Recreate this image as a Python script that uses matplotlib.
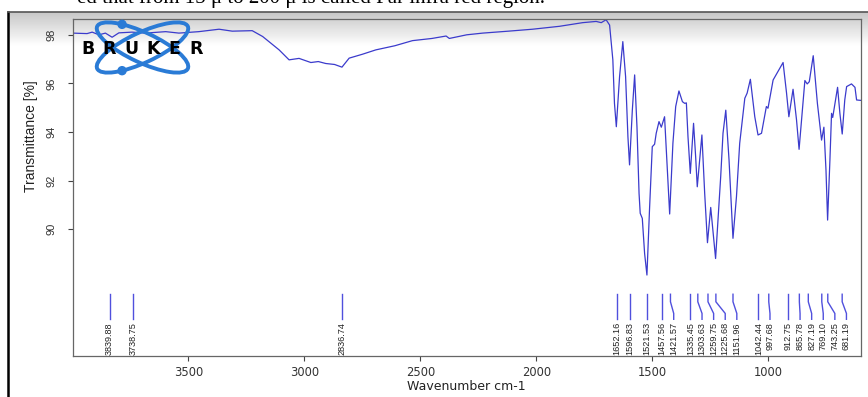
import numpy as np
import matplotlib
matplotlib.use('Agg')
import matplotlib.pyplot as plt
from matplotlib.patches import Ellipse, Circle

# spectrum (wavenumber cm-1, transmittance %)
wavenumber = [4000, 3937, 3915, 3886, 3858, 3829, 3800, 3743, 3685, 3627,
              3598, 3541, 3455, 3368, 3311, 3225, 3180, 3109, 3066, 3023,
              2972, 2940, 2908, 2870, 2838, 2807, 2750, 2692, 2610, 2534,
              2450, 2389, 2375, 2300, 2231, 2120, 2016, 1900, 1800, 1742,
              1720, 1699, 1684, 1670, 1663, 1655, 1641, 1627, 1615, 1605,
              1598, 1586, 1576, 1566, 1557, 1552, 1543, 1533, 1523, 1512,
              1500, 1490, 1483, 1471, 1461, 1447, 1437, 1425, 1411, 1399,
              1385, 1370, 1360, 1353, 1346, 1336, 1322, 1313, 1306, 1286,
              1274, 1262, 1248, 1227, 1205, 1195, 1183, 1169, 1152, 1137,
              1123, 1101, 1091, 1077, 1058, 1044, 1029, 1008, 1001, 979,
              958, 936, 921, 911, 893, 878, 867, 842, 832, 823,
              806, 788, 770, 760, 751, 744, 734, 727, 722, 701,
              691, 681, 670, 662, 641, 626, 619, 598]
transmittance = [98.07, 98.05, 98.11, 98.00, 98.07, 97.90, 98.08, 98.11, 98.07, 98.11,
                 98.13, 98.07, 98.13, 98.23, 98.15, 98.17, 97.93, 97.38, 96.97, 97.03,
                 96.86, 96.90, 96.82, 96.78, 96.67, 97.04, 97.20, 97.38, 97.55, 97.76,
                 97.85, 97.95, 97.85, 98.00, 98.07, 98.15, 98.23, 98.35, 98.50, 98.55,
                 98.50, 98.62, 98.40, 96.97, 95.18, 94.22, 96.28, 97.72, 96.28, 93.81,
                 92.65, 94.90, 96.35, 94.22, 91.48, 90.66, 90.45, 89.00, 88.12, 90.79,
                 93.40, 93.50, 93.95, 94.43, 94.20, 94.63, 92.85, 90.63, 93.54, 95.05,
                 95.69, 95.25, 95.18, 95.20, 93.81, 92.30, 94.36, 92.99, 91.75, 93.88,
                 91.48, 89.45, 90.90, 88.80, 92.16, 93.95, 94.90, 92.85, 89.63, 91.34,
                 93.54, 95.39, 95.60, 96.17, 94.63, 93.88, 93.95, 95.05, 94.98, 96.14,
                 96.49, 96.86, 95.60, 94.63, 95.76, 94.50, 93.29, 96.12, 95.98, 96.07,
                 97.14, 95.18, 93.67, 94.20, 92.44, 90.38, 92.85, 94.77, 94.60, 95.84,
                 94.77, 93.92, 95.32, 95.87, 95.98, 95.84, 95.32, 95.30]

peaks = [3839.88, 3738.75, 2836.74, 1652.16, 1596.83, 1521.53, 1457.56, 1421.57,
         1335.45, 1303.63, 1259.75, 1225.68, 1151.96, 1042.44, 997.68, 912.75,
         865.78, 827.19, 769.10, 743.25, 681.19]

xticks = [3500, 3000, 2500, 2000, 1500, 1000]
yticks = [90, 92, 94, 96, 98]

W, H = 868, 397
line_col = '#3b3bcc'
grey = '#444444'
wide = ['DejaVu Sans']
narrow = ['Liberation Sans Narrow', 'Liberation Sans', 'DejaVu Sans']

fig = plt.figure(figsize=(W / 100, H / 100), dpi=100)
fig.patch.set_facecolor('white')

# background layer in pixel units: frame + top gradient
bg = fig.add_axes([0, 0, 1, 1], zorder=0)
bg.axis('off')
grad = np.linspace(0.78, 1.0, 60).reshape(-1, 1)
bg.imshow(grad, cmap='gray', vmin=0, vmax=1, aspect='auto', origin='upper',
          extent=(8, W, 46, 12), interpolation='bilinear')
bg.plot([8, 8], [12, H], color='black', lw=1.8)
bg.plot([8, W], [12, 12], color='#555555', lw=1.2)
bg.set_xlim(0, W)
bg.set_ylim(H, 0)

# main spectrum axes
ax = fig.add_axes([72.7 / W, 1 - 356 / H, (861 - 72.7) / W, (356 - 19) / H], zorder=1)
ax.set_facecolor('none')
ax.plot(wavenumber, transmittance, color=line_col, lw=0.9)
ax.set_xlim(3999, 600)
ax.set_ylim(84.79, 98.65)

# peak markers, labels pushed apart when crowded
min_sep = 50
lab_x = []
prev = None
for p in peaks:
    x = p if prev is None else min(p, prev - min_sep)
    lab_x.append(x)
    prev = x
for p, lx in zip(peaks, lab_x):
    if abs(p - lx) < 0.5:
        ax.plot([p, p], [87.33, 86.30], color='#5050dd', lw=1.0)
    else:
        ax.plot([p, p, lx, lx], [87.33, 87.02, 86.54, 86.30], color='#5050dd', lw=1.0)
    ax.text(lx, 86.18, '%.2f' % p, rotation=90, ha='center', va='top',
            fontsize=6.6, color='#222222', family=narrow)

for s in ax.spines.values():
    s.set_color('#666666')
    s.set_linewidth(0.9)
ax.set_xticks(xticks)
ax.set_xticklabels([str(t) for t in xticks], fontsize=8.3, color='#333333', family=wide)
ax.set_yticks(yticks)
ax.set_yticklabels([str(t) for t in yticks], rotation=90, va='center',
                   fontsize=8, color='#333333', family=narrow)
ax.tick_params(axis='x', direction='out', length=3.6, width=0.8, color=grey, pad=3.5)
ax.tick_params(axis='y', direction='out', length=3.6, width=0.8, color=grey, pad=8)

fig.text(466 / W, 1 - 387 / H, 'Wavenumber cm-1', ha='center', va='center',
         fontsize=9, color='#222222', family=wide)
fig.text(30.5 / W, 1 - 136 / H, 'Transmittance [%]', rotation=90, ha='center',
         va='center', fontsize=10, color='#222222', family=narrow)

# cut-off line of document text above the chart
fig.text(545 / W, 1 - 3 / H, 'ed that from 15 \u03bc to 200 \u03bc is called Far infra red region.',
         ha='right', va='baseline', fontsize=15, family=['Liberation Serif', 'DejaVu Serif'],
         color='black')

# Bruker logo on top
fg = fig.add_axes([0, 0, 1, 1], zorder=3)
fg.axis('off')
fg.set_xlim(0, W)
fg.set_ylim(H, 0)
logo_blue = '#2a7bd6'
cx, cy = 142.5, 47.5
for ang in (25, -25):
    fg.add_patch(Ellipse((cx, cy), 100, 30, angle=ang, fill=False,
                         edgecolor=logo_blue, lw=2.8))
t = np.linspace(0, 2 * np.pi, 400)
for ang, target in ((25, (121.7, 25.3)), (-25, (121.7, 70.0))):
    a = np.deg2rad(ang)
    ex = cx + 50 * np.cos(t) * np.cos(a) - 15 * np.sin(t) * np.sin(a)
    ey = cy + 50 * np.cos(t) * np.sin(a) + 15 * np.sin(t) * np.cos(a)
    k = np.argmin((ex - target[0]) ** 2 + (ey - target[1]) ** 2)
    fg.add_patch(Circle((ex[k], ey[k]), 4, color=logo_blue))
for i, ch in enumerate('BRUKER'):
    fg.text(77 + 10.8 + i * 21.7, 49, ch, ha='center', va='center',
            fontsize=12.5, fontweight='heavy', color='black', family=wide)

fig.savefig('out.png', dpi=100, facecolor='white')
